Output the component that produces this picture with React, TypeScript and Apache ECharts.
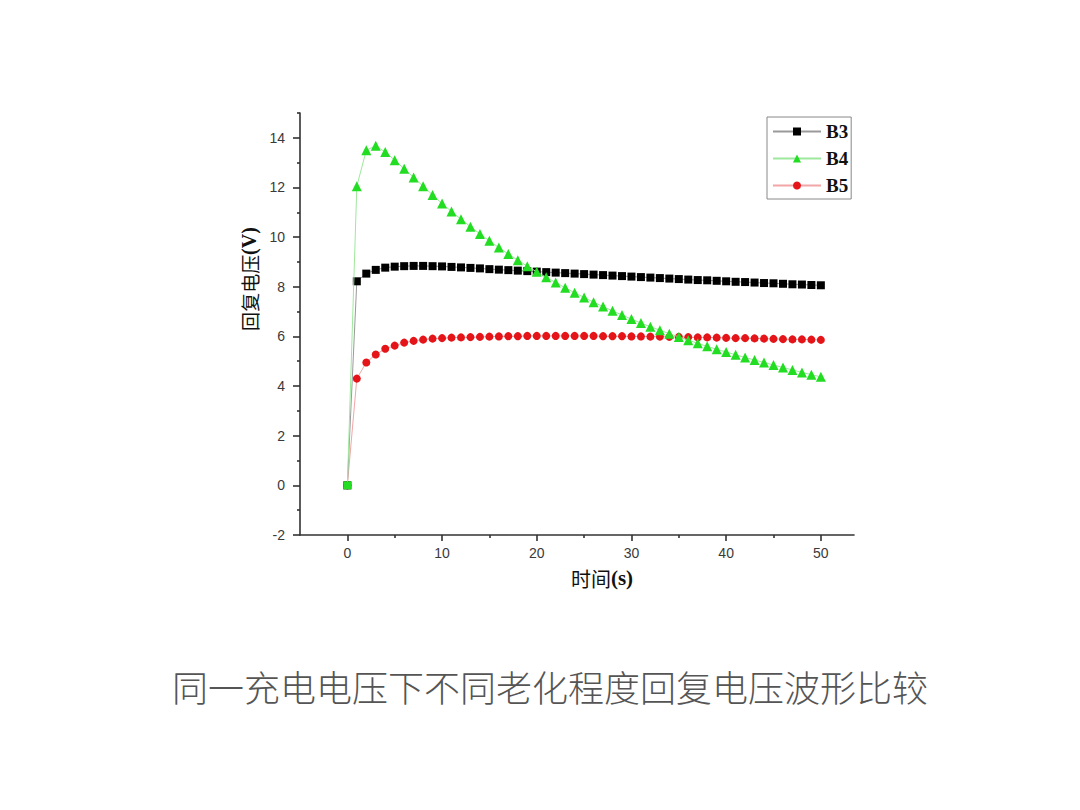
import React, { useEffect, useRef } from "react";
import * as echarts from "echarts";

const timeS: number[] = Array.from({ length: 51 }, (_, i) => i);

const b3: number[] = [
  0, 8.22, 8.53, 8.68, 8.77, 8.81, 8.83, 8.84, 8.84, 8.83,
  8.82, 8.8, 8.78, 8.76, 8.74, 8.71, 8.69, 8.67, 8.65, 8.63,
  8.61, 8.59, 8.57, 8.55, 8.53, 8.51, 8.49, 8.47, 8.45, 8.43,
  8.41, 8.39, 8.37, 8.35, 8.33, 8.31, 8.29, 8.27, 8.26, 8.24,
  8.22, 8.2, 8.19, 8.17, 8.15, 8.14, 8.12, 8.1, 8.09, 8.07,
  8.06,
];

const b4: number[] = [
  0, 12.05, 13.5, 13.68, 13.43, 13.1, 12.75, 12.4, 12.05, 11.7,
  11.35, 11.03, 10.72, 10.42, 10.13, 9.85, 9.58, 9.32, 9.07, 8.83,
  8.6, 8.38, 8.17, 7.96, 7.76, 7.57, 7.38, 7.2, 7.03, 6.86,
  6.7, 6.54, 6.39, 6.25, 6.11, 5.98, 5.85, 5.72, 5.6, 5.48,
  5.37, 5.26, 5.15, 5.05, 4.95, 4.85, 4.75, 4.65, 4.55, 4.46,
  4.37,
];

const b5: number[] = [
  0, 4.3, 4.95, 5.27, 5.5, 5.63, 5.75, 5.82, 5.87, 5.91,
  5.93, 5.95, 5.96, 5.97, 5.98, 5.99, 6.0, 6.01, 6.01, 6.02,
  6.02, 6.02, 6.02, 6.02, 6.02, 6.02, 6.02, 6.01, 6.01, 6.01,
  6.0, 6.0, 5.99, 5.99, 5.98, 5.98, 5.97, 5.96, 5.96, 5.95,
  5.94, 5.93, 5.93, 5.92, 5.91, 5.9, 5.89, 5.88, 5.88, 5.87,
  5.86,
];

const seriesNames = ["B3", "B4", "B5"];
const xMajorTicks = [0, 10, 20, 30, 40, 50];
const xMinorTicks = [5, 15, 25, 35, 45];
const yMajorTicks = [-2, 0, 2, 4, 6, 8, 10, 12, 14];
const yMinorTicks = [-1, 1, 3, 5, 7, 9, 11, 13, 15];

const titleText = "同一充电电压下不同老化程度回复电压波形比较";
const yNameCjk = "回复电压";
const yNameUnit = "(V)";
const xNameCjk = "时间";
const xNameUnit = "(s)";

export default function App() {
  const ref = useRef<HTMLDivElement>(null);

  useEffect(() => {
    if (!ref.current) return;
    const chart = echarts.init(ref.current, undefined, { renderer: "svg" });

    const toPairs = (ys: number[]) => ys.map((y, i) => [timeS[i], y]);
    const axisColor = "#333";
    const labelStyle = {
      color: "#3a3a3a",
      fontSize: 14,
      fontFamily: "'Liberation Sans', Arial, sans-serif",
    };

    const baseX = {
      type: "value" as const,
      min: -5,
      max: 53.5,
      position: "bottom" as const,
      splitLine: { show: false },
    };
    const baseY = {
      type: "value" as const,
      min: -2,
      max: 15,
      position: "left" as const,
      splitLine: { show: false },
    };

    const b4Data: any[] = toPairs(b4);
    b4Data[0] = { value: b4Data[0], symbol: "rect", symbolSize: 8 };

    const nameRich = (size: number) => ({
      cjk: {
        fontSize: size,
        fontWeight: "normal",
        fill: "#111",
        fontFamily: "'Noto Sans CJK SC', sans-serif",
      },
      lat: {
        fontSize: size + 1,
        fontWeight: "bold",
        fill: "#111",
        fontFamily: "'Liberation Serif', 'Times New Roman', serif",
      },
    });

    chart.setOption({
      animation: false,
      backgroundColor: "#ffffff",
      grid: { left: 300, right: 226, top: 113, bottom: 275, containLabel: false },
      xAxis: [
        {
          ...baseX,
          axisLine: { show: true, onZero: false, lineStyle: { color: axisColor, width: 1.6 } },
          axisTick: { show: true, customValues: xMajorTicks, length: 6, lineStyle: { color: axisColor, width: 1.6 } },
          axisLabel: { show: true, customValues: xMajorTicks, margin: 11, ...labelStyle },
        },
        {
          ...baseX,
          axisLine: { show: false, onZero: false },
          axisTick: { show: true, customValues: xMinorTicks, length: 3, lineStyle: { color: axisColor, width: 1.6 } },
          axisLabel: { show: false },
        },
      ],
      yAxis: [
        {
          ...baseY,
          axisLine: { show: true, onZero: false, lineStyle: { color: axisColor, width: 1.6 } },
          axisTick: { show: true, customValues: yMajorTicks, length: 7, lineStyle: { color: axisColor, width: 1.6 } },
          axisLabel: { show: true, customValues: yMajorTicks, margin: 15, ...labelStyle },
        },
        {
          ...baseY,
          axisLine: { show: false, onZero: false },
          axisTick: { show: true, customValues: yMinorTicks, length: 3, lineStyle: { color: axisColor, width: 1.6 } },
          axisLabel: { show: false },
        },
      ],
      legend: {
        data: seriesNames,
        orient: "vertical",
        left: 767,
        top: 117,
        padding: [5, 3, 4, 5],
        itemWidth: 48,
        itemHeight: 10,
        itemGap: 8,
        borderColor: "#888",
        borderWidth: 1,
        textStyle: {
          color: "#111",
          fontSize: 19,
          fontWeight: "bold",
          fontFamily: "'Liberation Serif', 'Times New Roman', serif",
        },
      },
      series: [
        {
          name: seriesNames[0],
          type: "line",
          data: toPairs(b3),
          symbol: "rect",
          symbolSize: 8,
          showAllSymbol: true,
          itemStyle: { color: "#000000" },
          lineStyle: { color: "#9a9a9a", width: 1 },
          z: 3,
        },
        {
          name: seriesNames[1],
          type: "line",
          data: b4Data,
          symbol: "triangle",
          symbolSize: 10,
          showAllSymbol: true,
          itemStyle: { color: "#22dd22" },
          lineStyle: { color: "#9ee89e", width: 1 },
          z: 4,
        },
        {
          name: seriesNames[2],
          type: "line",
          data: toPairs(b5),
          symbol: "circle",
          symbolSize: 8,
          showAllSymbol: true,
          itemStyle: { color: "#e51419" },
          lineStyle: { color: "#f2a6a6", width: 1 },
          z: 2,
        },
      ],
      graphic: [
        {
          type: "text",
          x: 249,
          y: 279,
          rotation: Math.PI / 2,
          style: {
            text: `{cjk|${yNameCjk}}{lat|${yNameUnit}}`,
            rich: nameRich(19),
            align: "center",
            verticalAlign: "middle",
          },
        },
        {
          type: "text",
          x: 602,
          y: 578,
          style: {
            text: `{cjk|${xNameCjk}}{lat|${xNameUnit}}`,
            rich: nameRich(20),
            align: "center",
            verticalAlign: "middle",
          },
        },
        {
          type: "text",
          x: 550,
          y: 686,
          style: {
            text: titleText,
            fill: "#555",
            fontSize: 36,
            fontWeight: 300,
            fontFamily: "'Noto Sans CJK SC', sans-serif",
            align: "center",
            verticalAlign: "middle",
          },
        },
      ],
    });

    return () => {
      chart.dispose();
    };
  }, []);

  return (
    <div
      ref={ref}
      style={{ position: "absolute", left: 0, top: 0, width: 1080, height: 810, background: "#fff" }}
    />
  );
}
